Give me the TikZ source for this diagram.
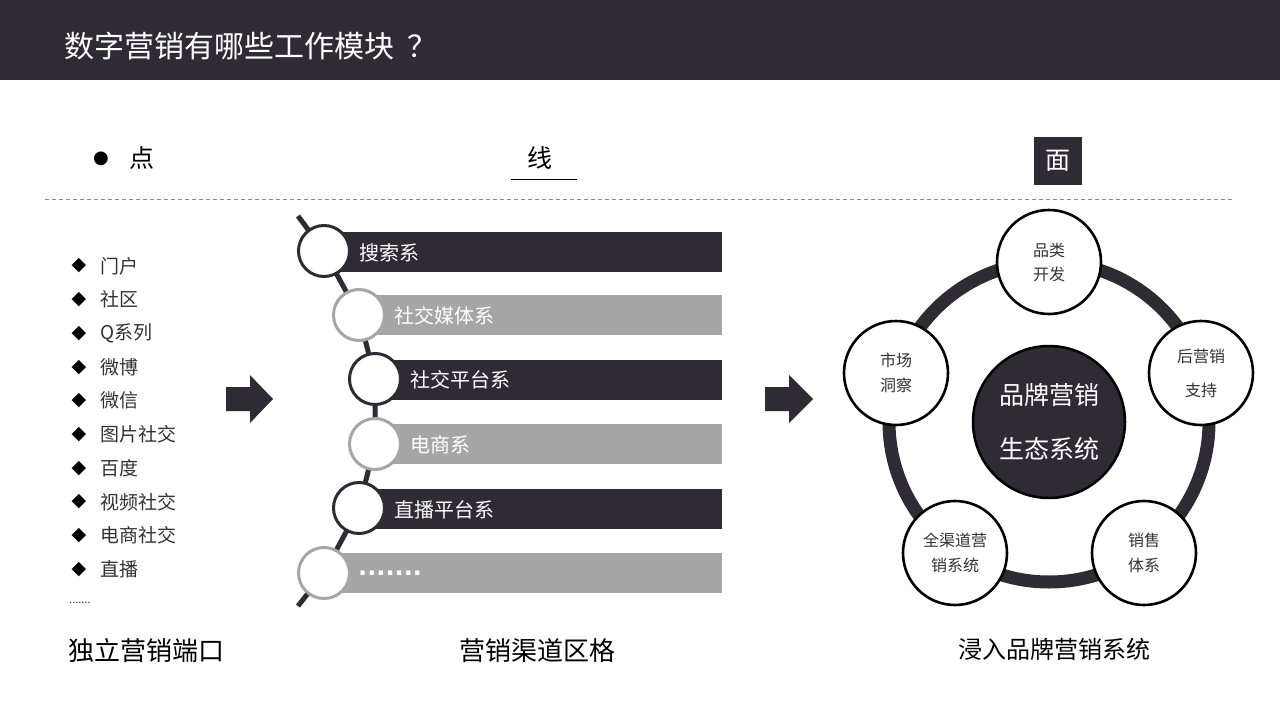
\documentclass[tikz,border=0pt]{standalone}
\usepackage{fontspec}
\setmainfont{Noto Sans CJK SC}
\newfontfamily\symf{DejaVu Sans}
\definecolor{dk}{HTML}{2E2B35}
\definecolor{gr}{HTML}{A6A6A6}
\definecolor{dashc}{HTML}{6F98A0}
\definecolor{txt}{HTML}{333333}
\tikzset{
  fs/.style={font=\fontsize{#1}{#1}\selectfont},
  listitem/.style={anchor=west, inner sep=0pt, text=txt, fs=19},
  listmark/.style={inner sep=0pt, font=\symf\fontsize{19}{19}\selectfont},
  bardark/.style={fill=dk, draw=none, anchor=west, minimum width=#1, minimum height=40pt, inner sep=0pt},
  bargray/.style={fill=gr, draw=none, anchor=west, minimum width=#1, minimum height=40pt, inner sep=0pt},
  ringdk/.style={circle, fill=white, draw=dk, line width=3pt, minimum size=51pt, inner sep=0pt},
  ringgr/.style={circle, fill=white, draw=gr, line width=3pt, minimum size=51pt, inner sep=0pt},
  bartext/.style={anchor=west, inner sep=0pt, text=white, fs=20},
  petal/.style={circle, fill=white, draw=black, line width=2.6pt, minimum size=104pt, inner sep=0pt, align=center, text=txt},
  caption/.style={inner sep=0pt, text=black, fs=26},
  blockarrow/.style={fill=dk, draw=none},
}
\begin{document}
\begin{tikzpicture}[x=1pt,y=-1pt]
\useasboundingbox (0,0) rectangle (1280,720);
\fill[white] (0,0) rectangle (1280,720);
% header
\fill[dk] (0,0) rectangle (1280,80);
\node[anchor=west, inner sep=0pt, text=white, fs=30] (title) at (64,46) {数字营销有哪些工作模块\hspace{13pt}？};
% section headings
\node[inner sep=0pt, font=\symf\fontsize{18}{18}\selectfont] (dot) at (101,159) {●};
\node[inner sep=0pt, fs=25, text=black] (dian) at (142,158) {点};
\node[inner sep=0pt, fs=25, text=black] (xian) at (540,158) {线};
\draw[black, line width=0.8pt] (511,179) -- (577,179);
\node[fill=dk, minimum width=48pt, minimum height=48pt, inner sep=0pt, text=white, fs=25] (mian) at (1058,161) {面};
\draw[dashc, line width=1pt, dash pattern=on 4pt off 3pt] (45,199) -- (1235,199);
% list
\foreach \t [count=\i] in {门户,社区,Q系列,微博,微信,图片社交,百度,视频社交,电商社交,直播}{
  \pgfmathsetmacro{\yy}{266+(\i-1)*33.7}
  \node[listmark] (m\i) at (79,\yy) {◆};
  \node[listitem] (l\i) at (100,\yy) {\t};
}
\node[anchor=west, inner sep=0pt, fs=11, text=txt] (ldots) at (69,603) {.......};
% arrows
\fill[blockarrow] (226,387) -- (250,387) -- (250,375) -- (273,399) -- (250,423) -- (250,411) -- (226,411) -- cycle;
\fill[blockarrow] (765,387) -- (789,387) -- (789,375) -- (813,399) -- (789,423) -- (789,411) -- (765,411) -- cycle;
% chain
\coordinate (ctop) at (298,216);
\coordinate (cbot) at (298,606);
\coordinate (p1) at (324,251);
\coordinate (p2) at (359,315);
\coordinate (p3) at (375,379);
\coordinate (p4) at (375,444);
\coordinate (p5) at (359,508);
\coordinate (p6) at (324,573);
\draw[dk, line width=5pt] (ctop) -- (p1) -- (p2) -- (p3) -- (p4) -- (p5) -- (p6) -- (cbot);
\node[bardark=398pt] (b1) at (324,252) {};
\node[bargray=363pt] (b2) at (359,315) {};
\node[bardark=347pt] (b3) at (375,380) {};
\node[bargray=347pt] (b4) at (375,444) {};
\node[bardark=363pt] (b5) at (359,509) {};
\node[bargray=398pt] (b6) at (324,573) {};
\node[ringdk] (c1) at (p1) {};
\node[ringgr] (c2) at (p2) {};
\node[ringdk] (c3) at (p3) {};
\node[ringgr] (c4) at (p4) {};
\node[ringdk] (c5) at (p5) {};
\node[ringgr] (c6) at (p6) {};
\node[bartext] (t1) at (359,253) {搜索系};
\node[bartext] (t2) at (394,316) {社交媒体系};
\node[bartext] (t3) at (410,380) {社交平台系};
\node[bartext] (t4) at (410,445) {电商系};
\node[bartext] (t5) at (394,510) {直播平台系};
\node[bartext, font=\symf\bfseries\fontsize{24}{24}\selectfont] (t6) at (358,573) {.......};
% ecosystem
\coordinate (O) at (1049,422);
\draw[dk, line width=13pt] (O) circle[radius=160];
\node[circle, fill=dk, draw=black, line width=2.5pt, minimum size=152pt, inner sep=0pt, align=center, text=white, font=\fontsize{25}{54}\selectfont] (core) at (O) {品牌营销\\生态系统};
\node[petal, font=\fontsize{16}{24}\selectfont] (q1) at (1049,262) {品类\\开发};
\node[petal, font=\fontsize{16}{34}\selectfont] (q2) at (1201,373) {后营销\\支持};
\node[petal, font=\fontsize{16}{25}\selectfont] (q3) at (1144,553) {销售\\体系};
\node[petal, font=\fontsize{16}{25}\selectfont] (q4) at (955,553) {全渠道营\\销系统};
\node[petal, font=\fontsize{16}{25}\selectfont] (q5) at (896,373) {市场\\洞察};
% captions
\node[caption] (cap1) at (146,651) {独立营销端口};
\node[caption] (cap2) at (537,651) {营销渠道区格};
\node[caption, fs=24] (cap3) at (1054,649) {浸入品牌营销系统};
\end{tikzpicture}
\end{document}
